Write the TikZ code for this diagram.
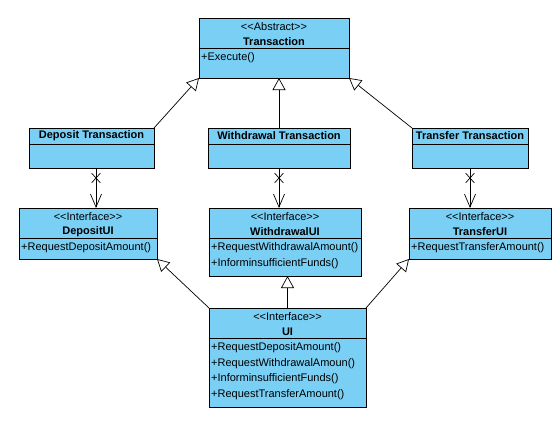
\documentclass[tikz,border=0pt]{standalone}
\usepackage{fontspec}
\setmainfont{Liberation Sans}
\usetikzlibrary{arrows.meta,shapes.misc}
\definecolor{clsfill}{RGB}{122,207,245}
\newcommand{\stq}[1]{<\kern0pt<#1>\kern0pt>}
\begin{document}
\begin{tikzpicture}[x=1pt,y=-1pt,
  cls/.style={draw=black, line width=0.8pt, fill=clsfill, inner sep=0pt, outer sep=0pt, anchor=north west, rectangle},
  divider/.style={draw=black, line width=0.8pt},
  stereo/.style={font=\fontsize{11}{13}\selectfont, inner sep=0pt},
  cname/.style={font=\fontsize{11}{13}\selectfont\bfseries, inner sep=0pt},
  meth/.style={font=\fontsize{11}{13}\selectfont, inner sep=0pt, anchor=west},
  gen/.style={draw=black, line width=0.7pt, -{Triangle[length=12pt,width=13pt,fill=white,line width=0.7pt]}},
  assoc/.style={draw=black, line width=0.7pt, -{Straight Barb[length=13pt,width=11pt,line width=0.7pt]}},
  xmark/.style={cross out, draw=black, line width=0.7pt, minimum width=8pt, minimum height=9pt, inner sep=0pt}]
\useasboundingbox[fill=white] (0,0) rectangle (560,424);

% boxes
\node[cls, minimum width=150pt, minimum height=60pt] (tr) at (199,18) {};
\node[cls, minimum width=125pt, minimum height=40pt] (dt) at (29,128) {};
\node[cls, minimum width=142pt, minimum height=40pt] (wt) at (208,128) {};
\node[cls, minimum width=116pt, minimum height=40pt] (ft) at (412,128) {};
\node[cls, minimum width=138pt, minimum height=51pt] (dui) at (19,208) {};
\node[cls, minimum width=152pt, minimum height=68pt] (wui) at (209,208) {};
\node[cls, minimum width=142pt, minimum height=51pt] (fui) at (409,208) {};
\node[cls, minimum width=157pt, minimum height=99pt] (ui) at (209,308) {};

% dividers
\draw[divider] (tr.west |- 0,48) -- (tr.east |- 0,48);
\draw[divider] (dt.west |- 0,144) -- (dt.east |- 0,144);
\draw[divider] (wt.west |- 0,144) -- (wt.east |- 0,144);
\draw[divider] (ft.west |- 0,144) -- (ft.east |- 0,144);
\draw[divider] (dui.west |- 0,238) -- (dui.east |- 0,238);
\draw[divider] (wui.west |- 0,238) -- (wui.east |- 0,238);
\draw[divider] (fui.west |- 0,238) -- (fui.east |- 0,238);
\draw[divider] (ui.west |- 0,338) -- (ui.east |- 0,338);

% texts
\node[stereo] (trs) at (274,27) {\stq{Abstract}};
\node[cname] (trn) at (274,42) {Transaction};
\node[meth] (trm1) at (201,58) {+Execute()};

\node[cname] (dtn) at (91.5,136) {Deposit Transaction};
\node[cname] (wtn) at (279,136) {Withdrawal Transaction};
\node[cname] (ftn) at (470,136) {Transfer Transaction};

\node[stereo] (duis) at (88,217) {\stq{Interface}};
\node[cname] (duin) at (88,232) {DepositUI};
\node[meth] (duim1) at (21,248) {+RequestDepositAmount()};

\node[stereo] (wuis) at (285,217) {\stq{Interface}};
\node[cname] (wuin) at (285,232) {WithdrawalUI};
\node[meth] (wuim1) at (211,248) {+RequestWithdrawalAmount()};
\node[meth] (wuim2) at (211,263.5) {+Informinsufficient\kern0ptFunds()};

\node[stereo] (fuis) at (480,217) {\stq{Interface}};
\node[cname] (fuin) at (480,232) {TransferUI};
\node[meth] (fuim1) at (411,248) {+RequestTransferAmount()};

\node[stereo] (uis) at (287.5,317) {\stq{Interface}};
\node[cname] (uin) at (287.5,332) {UI};
\node[meth] (uim1) at (211,348) {+RequestDepositAmount()};
\node[meth] (uim2) at (211,363.5) {+RequestWithdrawalAmoun()};
\node[meth] (uim3) at (211,379) {+Informinsufficient\kern0ptFunds()};
\node[meth] (uim4) at (211,394.5) {+RequestTransferAmount()};

% generalizations
\draw[gen] (dt.north east) -- (tr.south west);
\draw[gen] (wt.north) -- (wt.north |- tr.south);
\draw[gen] (ft.north west) -- (tr.south east);
\draw[gen] (ui.north west) -- (dui.south east);
\draw[gen] (ui.north) -- (ui.north |- wui.south);
\draw[gen] (ui.north east) -- (fui.south west);

% associations
\draw[assoc] (dt.south -| 96,0) -- node[xmark,pos=0.25]{} (dui.north -| 96,0);
\draw[assoc] (wt.south) -- node[xmark,pos=0.25]{} (wt.south |- wui.north);
\draw[assoc] (ft.south) -- node[xmark,pos=0.25]{} (ft.south |- fui.north);
\end{tikzpicture}
\end{document}
